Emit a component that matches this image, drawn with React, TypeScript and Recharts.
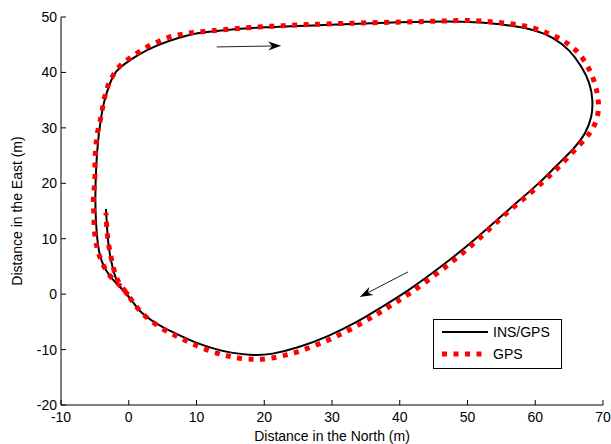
import React from "react";
import { ComposedChart, Line, XAxis, YAxis, Legend, ReferenceLine } from "recharts";

// trajectory (metres)
const insNorth = [
  -0.11, -1.29, -2.77, -3.95, -4.54, -4.83, -4.98, -4.83, -4.54, -4.24, -3.8, -3.21, -2.62, -1.88,
  -0.85, 1.22, 4.17, 7.56, 10.22, 12.44, 19.82, 29.7, 40.04, 49.93, 54.8, 59.67, 62.62, 65.13, 66.9,
  68.08, 68.52, 68.38, 67.49, 65.87, 62.8, 60.6, 56.0, 51.3, 46.2, 41.0, 37.5, 33.8, 29.5, 25.0,
  21.0, 18.5, 15.0, 12.4, 9.5, 6.5, 3.58, 1.66, 0.63, -0.55, -1.59, -2.32, -3.06, -3.36,
];
const insEast = [
  -0.33, 1.29, 3.09, 5.44, 8.33, 12.48, 16.99, 22.94, 27.81, 30.52, 34.13, 36.47, 38.63, 40.26,
  41.34, 43.14, 44.95, 46.39, 47.11, 47.47, 48.2, 48.56, 49.1, 49.28, 48.74, 47.84, 46.39, 44.05,
  40.98, 38.09, 35.03, 31.96, 29.07, 26.37, 22.8, 20.0, 15.2, 10.0, 5.0, 0.4, -2.2, -5.0, -7.6,
  -9.7, -10.9, -11.1, -10.6, -9.8, -8.6, -6.9, -5.02, -3.22, -1.42, 0.39, 1.65, 4.36, 8.51, 15.36,
];
const gpsNorth = [
  -0.11, -1.0, -2.77, -3.65, -4.24, -4.69, -4.98, -5.13, -5.13, -5.28, -5.13, -4.98, -4.98, -4.98,
  -4.83, -4.69, -4.39, -3.95, -3.8, -3.36, -2.92, -2.03, -1.0, 0.18, 1.51, 2.84, 4.32, 5.79, 7.27,
  8.74, 10.22, 11.99, 15.24, 18.63, 22.03, 25.28, 28.67, 34.13, 40.48, 47.12, 50.66, 53.61, 57.0,
  59.96, 61.73, 63.21, 64.69, 65.87, 66.9, 67.79, 68.38, 68.97, 69.26, 69.41, 69.11, 68.38, 67.64,
  65.57, 63.36, 61.14, 58.48, 55.83, 51.2, 46.3, 41.3, 37.6, 34.0, 29.6, 25.0, 20.6, 17.4, 14.6,
  12.2, 9.4, 7.6, 5.0, 2.1, 0.92, -0.11, -1.44, -1.88, -2.32, -2.62, -2.92, -3.21, -3.36,
];
const gpsEast = [
  -0.15, 1.29, 3.1, 4.9, 6.52, 8.33, 10.13, 12.48, 14.64, 16.63, 18.79, 20.6, 22.76, 24.74, 26.91,
  28.71, 30.52, 32.68, 34.49, 36.47, 38.27, 40.08, 41.7, 42.6, 43.69, 44.77, 45.49, 46.39, 46.75,
  47.11, 47.29, 47.47, 47.84, 48.2, 48.38, 48.56, 48.74, 48.92, 49.1, 49.28, 49.46, 49.1, 48.74,
  48.02, 47.11, 46.39, 45.31, 44.23, 42.78, 40.98, 39.54, 37.37, 35.57, 33.58, 31.42, 29.62, 28.35,
  25.65, 22.76, 20.24, 17.35, 14.82, 9.3, 4.4, -0.1, -2.9, -5.6, -8.3, -10.5, -11.8, -11.8, -11.2,
  -10.4, -9.0, -7.9, -6.4, -3.76, -1.96, -0.15, 2.01, 3.1, 4.9, 6.7, 8.51, 11.03, 14.64,
];

const xTicks = [-10, 0, 10, 20, 30, 40, 50, 60, 70];
const yTicks = [-20, -10, 0, 10, 20, 30, 40, 50];

// direction arrows, [start, tip]
const arrowTop = [
  { x: 13.0, y: 44.6 },
  { x: 22.5, y: 44.8 },
];
const arrowBottom = [
  { x: 41.2, y: 4.0 },
  { x: 34.1, y: -0.5 },
];

const insData = insNorth.map((x, i) => ({ x, y: insEast[i] }));
const gpsData = gpsNorth.map((x, i) => ({ x, y: gpsEast[i] }));

const font = "'Liberation Sans', Arial, sans-serif";
const fs = 14;

const BottomTick = ({ x, y, payload }: any) => (
  <g>
    <line x1={x} y1={y} x2={x} y2={y - 5} stroke="#000" />
    <text x={x} y={y + 17} textAnchor="middle" fontSize={fs} fontFamily={font} fill="#000">
      {payload.value}
    </text>
  </g>
);
const LeftTick = ({ x, y, payload }: any) => (
  <g>
    <line x1={x} y1={y} x2={x + 5} y2={y} stroke="#000" />
    <text x={x - 4} y={y + 5} textAnchor="end" fontSize={fs} fontFamily={font} fill="#000">
      {payload.value}
    </text>
  </g>
);
const TopTick = ({ x, y }: any) => <line x1={x} y1={y} x2={x} y2={y + 5} stroke="#000" />;
const RightTick = ({ x, y }: any) => <line x1={x} y1={y} x2={x - 5} y2={y} stroke="#000" />;

const Arrow = ({ x1, y1, x2, y2 }: any) => {
  const a = Math.atan2(y2 - y1, x2 - x1);
  const c = Math.cos(a);
  const s = Math.sin(a);
  const L = 13;
  const W = 4.5;
  const bx = x2 - L * c;
  const by = y2 - L * s;
  const nx = x2 - 0.7 * L * c;
  const ny = y2 - 0.7 * L * s;
  const pts = [
    [x2, y2],
    [bx - W * s, by + W * c],
    [nx, ny],
    [bx + W * s, by - W * c],
  ]
    .map((p) => p.join(","))
    .join(" ");
  return (
    <g>
      <line x1={x1} y1={y1} x2={nx} y2={ny} stroke="#222" strokeWidth={1} />
      <polygon points={pts} fill="#000" />
    </g>
  );
};

const renderLegend = () => (
  <svg width={129} height={50} style={{ display: "block" }}>
    <rect x={0.5} y={0.5} width={128} height={49} fill="#fff" stroke="#000" />
    <line x1={9} y1={13} x2={55} y2={13} stroke="#000" strokeWidth={2} />
    <line x1={9} y1={35} x2={55} y2={35} stroke="#ff0000" strokeWidth={5} strokeDasharray="5 6.5" />
    <text x={60} y={18} fontSize={fs} fontFamily={font} fill="#000">
      INS/GPS
    </text>
    <text x={60} y={40} fontSize={fs} fontFamily={font} fill="#000">
      GPS
    </text>
  </svg>
);

export default function App() {
  return (
    <div style={{ position: "absolute", left: 0, top: 0, background: "#fff" }}>
      <ComposedChart width={611} height={444} margin={{ top: 17, right: 8, bottom: 0, left: 0 }}>
        <XAxis
          dataKey="x"
          type="number"
          domain={[-10, 70]}
          ticks={xTicks}
          interval={0}
          allowDataOverflow
          height={39}
          tickSize={0}
          tickMargin={0}
          tickLine={false}
          axisLine={{ stroke: "#000" }}
          tick={<BottomTick />}
          label={{
            content: (p: any) => {
              const vb = p.viewBox;
              return (
                <text
                  x={vb.x + vb.width / 2}
                  y={441}
                  textAnchor="middle"
                  fontSize={fs}
                  fontFamily={font}
                  fill="#000"
                >
                  Distance in the North (m)
                </text>
              );
            },
          }}
        />
        <XAxis
          xAxisId="top"
          orientation="top"
          type="number"
          domain={[-10, 70]}
          ticks={xTicks}
          interval={0}
          allowDataOverflow
          height={0}
          tickSize={0}
          tickMargin={0}
          tickLine={false}
          axisLine={{ stroke: "#000" }}
          tick={<TopTick />}
        />
        <YAxis
          type="number"
          domain={[-20, 50]}
          ticks={yTicks}
          interval={0}
          allowDataOverflow
          width={61}
          tickSize={0}
          tickMargin={0}
          tickLine={false}
          axisLine={{ stroke: "#000" }}
          tick={<LeftTick />}
          label={{
            content: (p: any) => {
              const vb = p.viewBox;
              const cy = vb.y + vb.height / 2;
              return (
                <text
                  x={22}
                  y={cy}
                  transform={`rotate(-90 22 ${cy})`}
                  textAnchor="middle"
                  fontSize={fs}
                  fontFamily={font}
                  fill="#000"
                >
                  Distance in the East (m)
                </text>
              );
            },
          }}
        />
        <YAxis
          yAxisId="right"
          orientation="right"
          type="number"
          domain={[-20, 50]}
          ticks={yTicks}
          interval={0}
          allowDataOverflow
          width={0}
          tickSize={0}
          tickMargin={0}
          tickLine={false}
          axisLine={{ stroke: "#000" }}
          tick={<RightTick />}
        />
        <Line
          data={insData}
          dataKey="y"
          name="INS/GPS"
          type="basis"
          stroke="#000"
          strokeWidth={2}
          dot={false}
          activeDot={false}
          isAnimationActive={false}
        />
        <Line
          data={gpsData}
          dataKey="y"
          name="GPS"
          type="basis"
          stroke="#ff0000"
          strokeWidth={5}
          strokeDasharray="5 6.5"
          dot={false}
          activeDot={false}
          isAnimationActive={false}
        />
        <ReferenceLine segment={arrowTop} shape={<Arrow />} ifOverflow="visible" />
        <ReferenceLine segment={arrowBottom} shape={<Arrow />} ifOverflow="visible" />
        <Legend
          layout="vertical"
          align="center"
          verticalAlign="middle"
          width={129}
          height={50}
          wrapperStyle={{ left: 433, top: 319, width: 129, height: 50 }}
          content={renderLegend}
        />
      </ComposedChart>
    </div>
  );
}
